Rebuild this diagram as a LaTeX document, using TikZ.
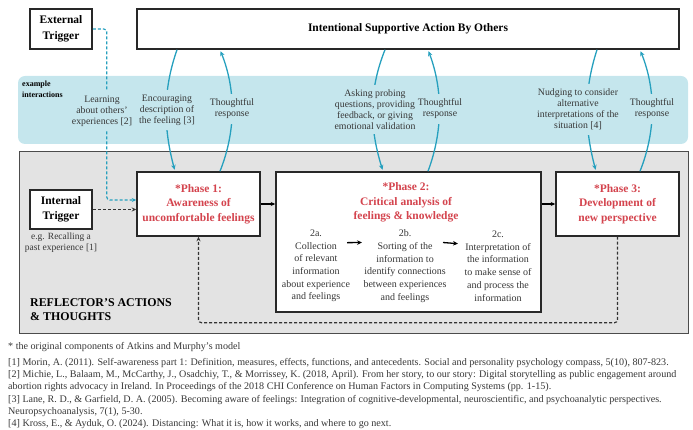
\documentclass[tikz,border=0pt]{standalone}
\usepackage{fontspec}
\setmainfont{Liberation Serif}
\usetikzlibrary{calc,arrows.meta}
\definecolor{bandblue}{RGB}{197,230,237}
\definecolor{tealc}{RGB}{38,160,190}
\definecolor{greyfill}{RGB}{227,227,227}
\definecolor{phasered}{RGB}{212,68,78}
\definecolor{txtgrey}{RGB}{55,55,55}
\definecolor{boxline}{RGB}{40,40,40}
\begin{document}
\begin{tikzpicture}[x=1pt,y=-1pt,
  box/.style={draw=boxline, line width=1.5pt, fill=white, inner sep=0pt, align=center},
  trig/.style={box, minimum width=62, minimum height=40, font=\fontsize{11.5}{15.5}\selectfont\bfseries},
  phasebox/.style={box, minimum width=123, minimum height=64, text=phasered, font=\fontsize{11.5}{14.7}\selectfont\bfseries},
  phasetitle/.style={inner sep=0pt, align=center, text=phasered, font=\fontsize{11.5}{14.7}\selectfont\bfseries},
  subtxt/.style={inner sep=1pt, align=center, text=txtgrey, font=\fontsize{10}{12.7}\selectfont},
  bandtxt/.style={inner xsep=1pt, inner ysep=5pt, align=center, text=txtgrey, fill=bandblue, font=\fontsize{9.8}{11}\selectfont},
  reftxt/.style={inner sep=0pt, anchor=west, text=txtgrey, font=\fontsize{10.1}{12}\selectfont},
  tealcurve/.style={draw=tealc, line width=1.3pt, -{Stealth[length=5pt,width=4.5pt]}, shorten >=1.5pt},
  blackarrow/.style={draw=black, line width=1.3pt, -{Stealth[length=5pt,width=4.5pt]}},
  blackarrowthin/.style={draw=black, line width=1.1pt, -{Stealth[length=4.5pt,width=4pt]}},
  fbdash/.style={draw=black!80, line width=1.2pt, dash pattern=on 3pt off 2pt, -{Stealth[length=4.5pt,width=4pt]}, rounded corners=3pt},
  bluedash/.style={draw=tealc, line width=1.2pt, dash pattern=on 3pt off 2pt, -{Stealth[length=4.5pt,width=4pt]}, rounded corners=3pt}
]
\useasboundingbox (0,0) rectangle (693,430);

% backgrounds
\fill[bandblue, rounded corners=7pt] (18,76) rectangle (688,144);
\draw[fill=greyfill, draw=black!70, line width=1pt] (19,152) rectangle (688,333);

% main boxes
\node[trig] (ext) at (61,29) {External\\Trigger};
\node[box, minimum width=542, minimum height=40, font=\fontsize{11.5}{14}\selectfont\bfseries] (top) at (408,29) {Intentional Supportive Action By Others};
\node[trig, minimum height=39] (int) at (61,209.5) {Internal\\Trigger};
\node[phasebox] (p1) at (198.5,204) {*Phase 1:\\Awareness of\\uncomfortable feelings};
\node[box, minimum width=265, minimum height=140] (p2) at (408.5,242) {};
\node[phasetitle] (p2t) at (406,202.5) {*Phase 2:\\Critical analysis of\\feelings \& knowledge};
\node[phasebox] (p3) at (617.5,204) {*Phase 3:\\Development of\\new perspective};

% sub steps
\node[subtxt] (s2a) at (316,266) {2a.\\Collection\\of relevant\\information\\about experience\\and feelings};
\node[subtxt] (s2b) at (405,266) {2b.\\Sorting of the\\information to\\identify connections\\between experiences\\and feelings};
\node[subtxt] (s2c) at (498,266) {2c.\\Interpretation of\\the information\\to make sense of\\and process the\\information};
\draw[blackarrow] ($(s2a.north)+(31,14)$) -- ($(s2b.north)+(-43,14)$);
\draw[blackarrow] ($(s2b.north)+(38,14)$) -- ($(s2c.north)+(-40,14)$);

% phase arrows
\draw[blackarrowthin] (p1.east) -- (p2.west |- p1.east);
\draw[blackarrowthin] (p2.east |- p3.west) -- (p3.west);

% feedback and triggers
\draw[fbdash] (p3.south) -- ++(0,86) -| (p1.south);
\draw[fbdash] (int.east) -- (int.east -| p1.west);
\draw[bluedash] (ext.east) -- ++(14,0) |- ($(p1.west)+(0,-4)$);

% teal curves
\draw[tealcurve] ($(p1.north|-top.south)+(-21.5,0)$) .. controls +(-14,40) and +(-12,-45) .. ($(p1.north)+(-23.5,0)$);
\draw[tealcurve] ($(p1.north)+(21.5,0)$) .. controls +(16,-40) and +(16,40) .. ($(p1.north|-top.south)+(21.5,0)$);
\draw[tealcurve] ($(p2.north|-top.south)+(-23.5,0)$) .. controls +(-16,40) and +(-14,-45) .. ($(p2.north)+(-25.5,0)$);
\draw[tealcurve] ($(p2.north)+(19.5,0)$) .. controls +(15,-40) and +(15,40) .. ($(p2.north|-top.south)+(19.5,0)$);
\draw[tealcurve] ($(p3.north|-top.south)+(-20.5,0)$) .. controls +(-13,40) and +(-12,-45) .. ($(p3.north)+(-21.5,0)$);
\draw[tealcurve] ($(p3.north)+(22.5,0)$) .. controls +(16,-40) and +(16,40) .. ($(p3.north|-top.south)+(22.5,0)$);

% band texts
\node[inner sep=0pt, anchor=north west, align=left, font=\fontsize{8}{10.5}\selectfont\bfseries] (exi) at (22,81) {example\\interactions};
\node[bandtxt] (lrn) at (102,111) {Learning\\about others'\\experiences [2]};
\node[bandtxt] (enc) at (167,110) {Encouraging\\description of\\the feeling [3]};
\node[bandtxt] (tr1) at (232,109) {Thoughtful\\response};
\node[bandtxt] (ask) at (375,109.5) {Asking probing\\questions, providing\\feedback, or giving\\emotional validation};
\node[bandtxt] (tr2) at (440,109) {Thoughtful\\response};
\node[bandtxt] (nud) at (578,109.5) {Nudging to consider\\alternative\\interpretations of the\\situation [4]};
\node[bandtxt] (tr3) at (652,109) {Thoughtful\\response};

% other labels
\node[subtxt, font=\fontsize{9.5}{11}\selectfont] (eg) at (61,242.5) {e.g. Recalling a\\past experience [1]};
\node[inner sep=0pt, anchor=west, align=left, font=\fontsize{11.9}{14}\selectfont\bfseries] (refl) at (30,310) {REFLECTOR'S ACTIONS\\\& THOUGHTS};

% footnotes
\node[reftxt] (star) at (8,347) {* the original components of Atkins and Murphy's model};
\node[reftxt] (r1) at (8,363) {[1] Morin, A. (2011). Self-awareness part 1: Definition, measures, effects, functions, and antecedents. Social and personality psychology compass, 5(10), 807-823.};
\node[reftxt] (r2) at (8,375) {[2] Michie, L., Balaam, M., McCarthy, J., Osadchiy, T., \& Morrissey, K. (2018, April). From her story, to our story: Digital storytelling as public engagement around};
\node[reftxt] (r3) at (8,387.5) {abortion rights advocacy in Ireland. In Proceedings of the 2018 CHI Conference on Human Factors in Computing Systems (pp. 1-15).};
\node[reftxt] (r4) at (8,400) {[3] Lane, R. D., \& Garfield, D. A. (2005). Becoming aware of feelings: Integration of cognitive-developmental, neuroscientific, and psychoanalytic perspectives.};
\node[reftxt] (r5) at (8,412) {Neuropsychoanalysis, 7(1), 5-30.};
\node[reftxt] (r6) at (8,424.5) {[4] Kross, E., \& Ayduk, O. (2024). Distancing: What it is, how it works, and where to go next.};
\end{tikzpicture}
\end{document}
